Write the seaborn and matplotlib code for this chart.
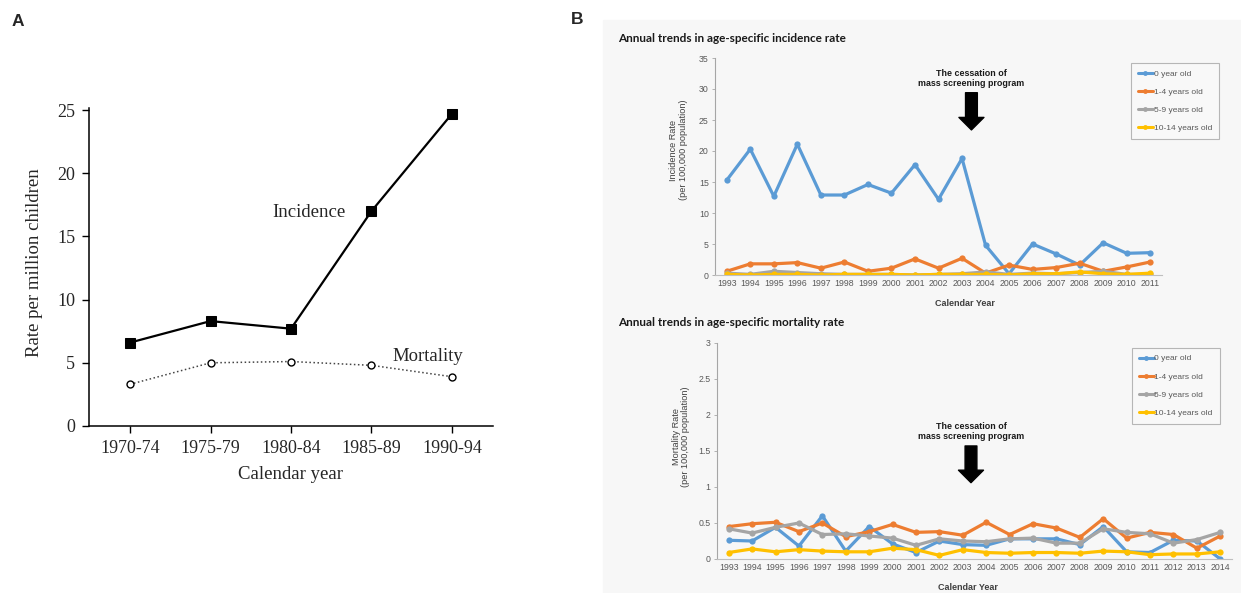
import pandas as pd
import numpy as np
import matplotlib
matplotlib.use('Agg')
import matplotlib.pyplot as plt
from matplotlib.patches import Rectangle
from matplotlib.lines import Line2D
from matplotlib.ticker import FuncFormatter
import seaborn as sns

# ---------------- data
# panel A
periods = ['1970-74', '1975-79', '1980-84', '1985-89', '1990-94']
incidence_a = [6.6, 8.3, 7.7, 17.0, 24.7]
mortality_a = [3.3, 5.0, 5.1, 4.8, 3.9]

# panel B
age_groups = ['0 year old', '1-4 years old', '5-9 years old', '10-14 years old']
age_colors = ['#5b9bd5', '#ed7d31', '#a5a5a5', '#ffc000']

inc_years = [1993, 1994, 1995, 1996, 1997, 1998, 1999, 2000, 2001, 2002,
             2003, 2004, 2005, 2006, 2007, 2008, 2009, 2010, 2011]
inc_0 = [15.3, 20.3, 12.7, 21.1, 12.9, 12.9, 14.6, 13.2, 17.8, 12.2,
         18.8, 4.8, 0.2, 5.0, 3.4, 1.6, 5.2, 3.5, 3.6]
inc_1_4 = [0.6, 1.8, 1.8, 2.0, 1.1, 2.1, 0.6, 1.1, 2.6, 1.1,
           2.7, 0.3, 1.6, 0.9, 1.2, 1.9, 0.6, 1.3, 2.1]
inc_5_9 = [0.3, 0.1, 0.6, 0.4, 0.2, 0.1, 0.1, 0.1, 0.0, 0.1,
           0.2, 0.5, 0.1, 0.3, 0.2, 0.4, 0.6, 0.1, 0.1]
inc_10_14 = [0.1, 0.0, 0.1, 0.1, 0.0, 0.1, 0.1, 0.1, 0.0, 0.1,
             0.1, 0.1, 0.0, 0.2, 0.2, 0.5, 0.2, 0.1, 0.3]

mort_years = [1993, 1994, 1995, 1996, 1997, 1998, 1999, 2000, 2001, 2002, 2003,
              2004, 2005, 2006, 2007, 2008, 2009, 2010, 2011, 2012, 2013, 2014]
mort_0 = [0.26, 0.25, 0.44, 0.18, 0.60, 0.11, 0.45, 0.21, 0.09, 0.25, 0.20,
          0.19, 0.28, 0.28, 0.28, 0.20, 0.45, 0.10, 0.09, 0.26, 0.25, 0.0]
mort_1_4 = [0.45, 0.49, 0.51, 0.38, 0.50, 0.31, 0.38, 0.48, 0.37, 0.38, 0.33,
            0.51, 0.34, 0.49, 0.43, 0.30, 0.56, 0.29, 0.37, 0.34, 0.15, 0.32]
mort_5_9 = [0.42, 0.36, 0.44, 0.50, 0.34, 0.35, 0.32, 0.29, 0.19, 0.28, 0.25,
            0.24, 0.28, 0.29, 0.22, 0.22, 0.42, 0.37, 0.35, 0.22, 0.27, 0.37]
mort_10_14 = [0.09, 0.14, 0.10, 0.13, 0.11, 0.10, 0.10, 0.15, 0.13, 0.05, 0.13,
              0.09, 0.08, 0.09, 0.09, 0.08, 0.11, 0.10, 0.06, 0.07, 0.07, 0.10]

W, H = 1241, 593
sns.set_style('white')
plt.rcParams['font.family'] = ['Liberation Sans', 'DejaVu Sans']

fig = plt.figure(figsize=(W / 100, H / 100), dpi=100)


def px_axes(left, top, right, bottom):
    return fig.add_axes([left / W, 1 - bottom / H, (right - left) / W, (bottom - top) / H])


# ---------------- panel A
serif = 'Liberation Serif'
axa = px_axes(89, 108, 493, 426)
sns.lineplot(x=periods, y=incidence_a, sort=False, ax=axa, color='black', lw=1.6,
             marker='s', markersize=7, markeredgecolor='black')
sns.lineplot(x=periods, y=mortality_a, sort=False, ax=axa, color='#444444', lw=1.1,
             linestyle=':', marker='o', markersize=5, markerfacecolor='white',
             markeredgecolor='black', markeredgewidth=1)
axa.set_xlim(-0.51, 4.51)
axa.set_ylim(0, 25.16)
axa.set_yticks([0, 5, 10, 15, 20, 25])
for s in ['top', 'right']:
    axa.spines[s].set_visible(False)
for s in ['left', 'bottom']:
    axa.spines[s].set_color('black')
    axa.spines[s].set_linewidth(1.1)
axa.tick_params(direction='out', length=5, width=1, color='black', pad=5,
                labelsize=13, left=True, bottom=True)
for lab in axa.get_xticklabels() + axa.get_yticklabels():
    lab.set_family(serif)
axa.set_xlabel('Calendar year', family=serif, fontsize=13.5)
axa.xaxis.set_label_coords(0.5, -0.125)
axa.set_ylabel('Rate per million children', family=serif, fontsize=13.5)
axa.yaxis.set_label_coords(-0.115, 0.513)
axa.text(2.22, 16.9, 'Incidence', family=serif, fontsize=13.5, ha='center', va='center')
axa.text(3.70, 5.46, 'Mortality', family=serif, fontsize=13.5, ha='center', va='center')

fig.text(18 / W, 1 - 21 / H, 'A', fontsize=12.5, fontweight='bold', ha='center', va='center')
fig.text(577 / W, 1 - 20 / H, 'B', fontsize=12.5, fontweight='bold', ha='center', va='center')

# ---------------- panel B
fig.add_artist(Rectangle((603 / W, 0), (W - 603) / W, (H - 20) / H,
                         transform=fig.transFigure, color='#f7f7f7', zorder=-5))


def trend_panel(ax, years, series, ymax, ystep, ylabel, leg_box, arrow_x, arrow_y, text_y):
    frames = []
    for name, vals in zip(age_groups, series):
        frames.append(pd.DataFrame({'year': years, 'rate': vals, 'age': name}))
    df = pd.concat(frames, ignore_index=True)
    sns.lineplot(data=df, x='year', y='rate', hue='age', hue_order=age_groups,
                 palette=age_colors, marker='o', markersize=4.5, markeredgewidth=0,
                 lw=2.3, ax=ax, legend=False)
    ax.set_facecolor('none')
    ax.set_xlim(years[0] - 0.5, years[-1] + 0.5)
    ax.set_ylim(0, ymax)
    ax.set_xticks(years)
    ax.set_yticks(np.arange(0, ymax + ystep / 2, ystep))
    ax.yaxis.set_major_formatter(FuncFormatter(lambda v, p: '{:g}'.format(v)))
    for s in ['top', 'right']:
        ax.spines[s].set_visible(False)
    ax.spines['left'].set_color('#a6a6a6')
    ax.spines['bottom'].set_color('#bfbfbf')
    ax.spines['left'].set_linewidth(0.8)
    ax.spines['bottom'].set_linewidth(0.8)
    ax.tick_params(axis='y', direction='out', length=2.5, width=0.6, color='#a6a6a6',
                   labelsize=6.3, labelcolor='#595959', pad=2, left=True)
    ax.tick_params(axis='x', length=0, labelsize=6.3, labelcolor='#595959', pad=3)
    ax.set_xlabel('Calendar Year', fontsize=6.5, fontweight='bold', color='#404040')
    ax.set_ylabel(ylabel, fontsize=6.6, color='#404040', linespacing=1.1)

    handles = [Line2D([], [], color=c, lw=2.2, marker='o', markersize=3.5,
                      markeredgewidth=0) for c in age_colors]
    leg = ax.legend(handles, age_groups, loc='upper left',
                    bbox_to_anchor=(leg_box[0] / W, 1 - leg_box[1] / H),
                    bbox_transform=fig.transFigure, borderaxespad=0, fontsize=6,
                    labelspacing=1.25, borderpad=0.8, handlelength=1.8,
                    handletextpad=0.1, fancybox=False, frameon=True)
    leg.get_frame().set_edgecolor('#a6a6a6')
    leg.get_frame().set_linewidth(0.8)
    leg.get_frame().set_facecolor('#f9f9f9')
    for t in leg.get_texts():
        t.set_color('#595959')

    ax.annotate('', xy=(arrow_x, arrow_y[1]), xytext=(arrow_x, arrow_y[0]),
                arrowprops=dict(facecolor='black', edgecolor='black', width=8.5,
                                headwidth=18, headlength=9, shrink=0))
    ax.text(arrow_x, text_y, 'The cessation of\nmass screening program', fontsize=6.4,
            fontweight='bold', color='#1a1a1a', ha='center', va='center',
            linespacing=1.2)


ax_inc = px_axes(715, 58, 1162, 275)
trend_panel(ax_inc, inc_years, [inc_0, inc_1_4, inc_5_9, inc_10_14], 35, 5,
            'Incidence Rate\n(per 100,000 population)', (1131, 63),
            2003.4, (29.4, 23.4), 31.7)
ax_inc.xaxis.set_label_coords(0.56, -0.11)
ax_inc.yaxis.set_label_coords(-0.06, 0.576)

ax_mort = px_axes(717, 343, 1232, 559)
trend_panel(ax_mort, mort_years, [mort_0, mort_1_4, mort_5_9, mort_10_14], 3, 0.5,
            'Mortality Rate\n(per 100,000 population)', (1132, 348),
            2003.35, (1.57, 1.06), 1.77)
ax_mort.xaxis.set_label_coords(0.487, -0.11)
ax_mort.yaxis.set_label_coords(-0.052, 0.565)

title_font = ['Lato', 'DejaVu Sans']
fig.text(618 / W, 1 - 38 / H, 'Annual trends in age-specific incidence rate',
         family=title_font, fontsize=8.5, fontweight='bold', color='#1a1a1a', va='center')
fig.text(618 / W, 1 - 323 / H, 'Annual trends in age-specific mortality rate',
         family=title_font, fontsize=8.5, fontweight='bold', color='#1a1a1a', va='center')

fig.savefig('out.png', dpi=100)
